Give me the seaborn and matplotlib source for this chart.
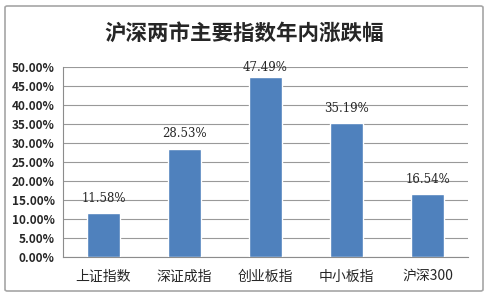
import matplotlib
matplotlib.use("Agg")
import matplotlib.pyplot as plt
import matplotlib.patches as mpatches
from matplotlib.ticker import FuncFormatter, MultipleLocator
import pandas as pd
import seaborn as sns

categories = ["上证指数", "深证成指", "创业板指", "中小板指", "沪深300"]
values = [11.58, 28.53, 47.49, 35.19, 16.54]
title = "沪深两市主要指数年内涨跌幅"

sns.set_style("white")
plt.rcParams['font.family'] = ['Noto Sans CJK SC', 'DejaVu Sans']

df = pd.DataFrame({"index": categories, "change": values})

fig = plt.figure(figsize=(4.88, 2.96), dpi=100)
ax = fig.add_axes([63 / 488, 1 - 257 / 296, (468 - 63) / 488, (257 - 67) / 296])

sns.barplot(data=df, x="index", y="change", color="#4F81BD", saturation=1,
            width=0.4, ax=ax, zorder=3)

ax.set_ylim(0, 50)
ax.yaxis.set_major_locator(MultipleLocator(5))
ax.yaxis.set_major_formatter(FuncFormatter(lambda v, p: f"{v:.2f}%"))
ax.grid(axis="y", color="#999999", linewidth=0.8, zorder=0)
ax.set_xlabel("")
ax.set_ylabel("")

for s in ["top", "right"]:
    ax.spines[s].set_visible(False)
for s in ["left", "bottom"]:
    ax.spines[s].set_color("#8c8c8c")
    ax.spines[s].set_linewidth(0.8)

# tick marks between categories on x, outside marks on y
ax.set_xticks(range(len(categories)))
ax.set_xticklabels(categories, fontsize=10)
ax.set_xticks([i - 0.5 for i in range(len(categories) + 1)], minor=True)
ax.tick_params(axis="x", which="major", length=0, pad=9)
ax.tick_params(axis="x", which="minor", length=4, color="#8c8c8c", width=0.8)
ax.tick_params(axis="y", length=4, color="#8c8c8c", width=0.8, labelsize=8.5, pad=2)
for lab in ax.get_yticklabels():
    lab.set_fontweight("bold")
ax.set_xlim(-0.5, len(categories) - 0.5)

for i, v in enumerate(values):
    ax.text(i, min(v + 2.2, 48.2), f"{v:.2f}%", ha="center", va="bottom", fontsize=8.5,
            family=["DejaVu Serif"], zorder=4)

fig.text(0.5, 1 - 33 / 296, title, ha="center", va="center", fontsize=15.5,
         fontweight="bold")

fig.patches.append(mpatches.FancyBboxPatch((5 / 488, 5 / 296), 478 / 488, 285 / 296,
                                           boxstyle="round,pad=0,rounding_size=0.005",
                                           transform=fig.transFigure, fill=False,
                                           edgecolor="#a6a6a6", linewidth=1.2))

fig.savefig("out.png", dpi=100)
